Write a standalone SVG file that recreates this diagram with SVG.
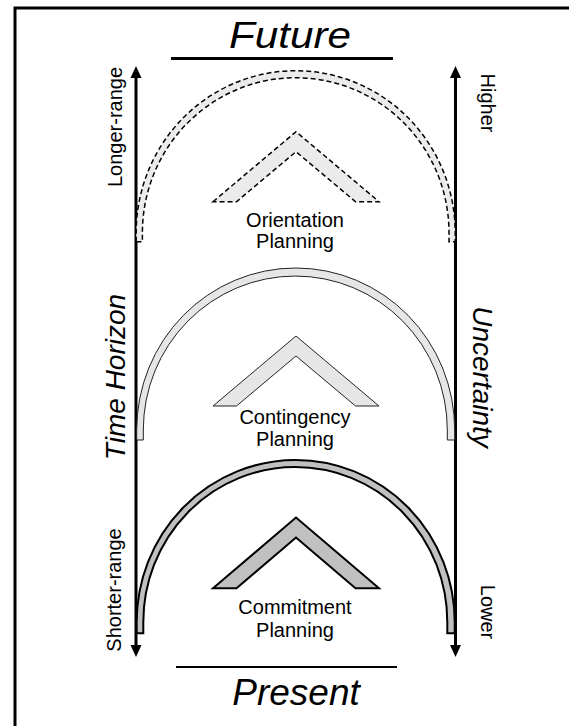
<svg xmlns="http://www.w3.org/2000/svg" width="569" height="726" viewBox="0 0 569 726">
<style>
  .lbl { font-family: "Liberation Sans", Arial, sans-serif; font-size: 20px; fill: #000; }
  .big { font-family: "Liberation Sans", Arial, sans-serif; font-style: italic; font-size: 37px; fill: #000; }
  .axis { font-family: "Liberation Sans", Arial, sans-serif; font-style: italic; font-size: 28px; fill: #000; }
  .dash { fill: #ebebeb; stroke: #000; stroke-width: 1.5; stroke-dasharray: 5 3; }
  .thin { fill: #e6e6e6; stroke: #222; stroke-width: 1; }
  .bold { fill: #c0c0c0; stroke: #000; stroke-width: 2; }
  .ax { stroke: #000; stroke-width: 3; fill: none; }
</style>
<defs>
  <marker id="ah" markerUnits="userSpaceOnUse" markerWidth="12" markerHeight="12" refX="6" refY="5.5" orient="auto-start-reverse" viewBox="0 0 12 11">
    <path d="M0,0 L12,5.5 L0,11 Z" fill="#000"/>
  </marker>
</defs>
<rect x="15" y="8" width="570" height="730" fill="#fff" stroke="#000" stroke-width="3"/>

<g id="future">
  <text class="big" x="290" y="48" text-anchor="middle" textLength="122" lengthAdjust="spacingAndGlyphs">Future</text>
  <line x1="171" y1="58.5" x2="393" y2="58.5" stroke="#000" stroke-width="3"/>
</g>
<g id="present">
  <line x1="176" y1="667" x2="397" y2="667" stroke="#000" stroke-width="2"/>
  <text class="big" x="296" y="705" text-anchor="middle">Present</text>
</g>

<g id="connectors">
  <line class="ax" x1="136" y1="72" x2="136" y2="651" marker-start="url(#ah)" marker-end="url(#ah)"/>
  <line class="ax" x1="455.5" y1="72" x2="455.5" y2="651" marker-start="url(#ah)" marker-end="url(#ah)"/>
</g>

<g id="time-horizon">
  <text class="lbl" transform="translate(122,127) rotate(-90)" text-anchor="middle">Longer-range</text>
  <text class="axis" transform="translate(125,377) rotate(-90)" text-anchor="middle">Time Horizon</text>
  <text class="lbl" transform="translate(121,590) rotate(-90)" text-anchor="middle">Shorter-range</text>
</g>
<g id="uncertainty">
  <text class="lbl" transform="translate(481,103) rotate(90)" text-anchor="middle">Higher</text>
  <text class="axis" transform="translate(473,377) rotate(90)" text-anchor="middle">Uncertainty</text>
  <text class="lbl" transform="translate(481,612) rotate(90)" text-anchor="middle">Lower</text>
</g>

<g id="orientation">
  <path class="dash" d="M136.2,241.7 L136.2,232.7 A159.5,162 0 0 1 455.2,232.7 L455.2,241.7 L449,241.7 L449,232.7 A153.3,155 0 0 0 142.4,232.7 L142.4,241.7 Z"/>
  <path class="dash" d="M213,201.7 L296,131.7 L379,201.7 L355.5,201.7 L296,151.7 L236.5,201.7 Z"/>
  <text class="lbl" x="295" y="226.5" text-anchor="middle">Orientation</text>
  <text class="lbl" x="295" y="248" text-anchor="middle">Planning</text>
</g>

<g id="contingency">
  <path class="thin" d="M136.7,440 L136.7,430 A159,162 0 0 1 454.7,430 L454.7,440 L447.3,440 L447.3,430 A152,154 0 0 0 143.3,430 L143.3,440 Z"/>
  <path class="thin" d="M213,406 L296,336 L379,406 L355.5,406 L296,356 L236.5,406 Z"/>
  <text class="lbl" x="295" y="423.5" text-anchor="middle">Contingency</text>
  <text class="lbl" x="295" y="446" text-anchor="middle">Planning</text>
</g>

<g id="commitment">
  <path class="bold" d="M136.7,633.3 L136.7,622 A159,162 0 0 1 454.7,622 L454.7,633.3 L447.3,633.3 L447.3,622 A152,155 0 0 0 143.3,622 L143.3,633.3 Z"/>
  <path class="bold" d="M213,588.3 L296,517.5 L379,588.3 L355.5,588.3 L296,537.5 L236.5,588.3 Z"/>
  <text class="lbl" x="295" y="613.5" text-anchor="middle">Commitment</text>
  <text class="lbl" x="295" y="636.5" text-anchor="middle">Planning</text>
</g>
</svg>
